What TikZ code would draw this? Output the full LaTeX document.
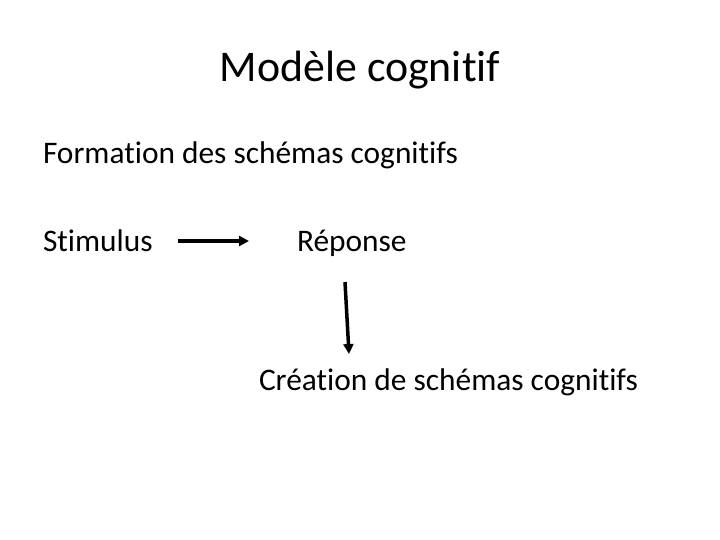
\documentclass[tikz,border=0pt]{standalone}
\usepackage{fontspec}
\setmainfont[Ligatures=NoCommon]{Carlito}
\usetikzlibrary{arrows.meta,positioning}
\tikzset{
  x=1bp, y=-1bp,
  every node/.style={inner sep=0pt, outer sep=0pt},
  txt/.style={anchor=base west, font=\fontsize{31.5}{38}\selectfont},
  link/.style={-{Triangle[length=10pt,width=10pt]}, line width=3.5pt}
  }
\begin{document}
\begin{tikzpicture}
    \useasboundingbox (0,0) rectangle (720,540);

    \node [anchor=base, font=\fontsize{44}{52}\selectfont] at (360,82) (title) {Modèle cognitif};

    \node [txt] at (43,164) (formation) {Formation des schémas cognitifs};
    \node [txt] at (43,252) (stimulus) {Stimulus};
    \node [txt] at (297,252) (reponse) {Réponse};
    \node [txt] at (259,390) (creation) {Création de schémas cognitifs};
    % free ends of the two arrows
    \coordinate (s0) at (178,241);
    \coordinate (s1) at (249,241);
    \coordinate (r0) at (345,282);
    \coordinate (r1) at (349,354);

    \draw [link] (s0) -- (s1);
    \draw [link] (r0) -- (r1);
\end{tikzpicture}
\end{document}
